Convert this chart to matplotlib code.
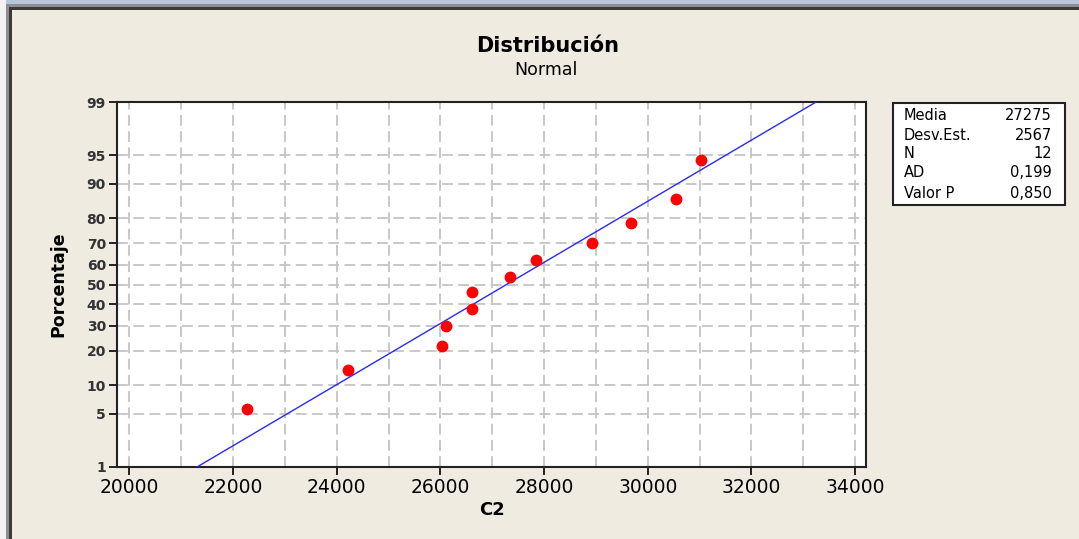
from statistics import NormalDist
import numpy as np
import matplotlib
matplotlib.use("Agg")
import matplotlib.pyplot as plt
from matplotlib.patches import Rectangle

# C2 sample values and their plotting positions (percent)
c2 = [22266, 24215, 26028, 26105, 26607, 26607, 27340, 27840, 28920, 29674, 30542, 31024]
pct = [5.6, 13.7, 21.8, 29.8, 37.9, 46.0, 54.0, 62.1, 70.2, 78.2, 86.3, 94.4]

# summary statistics shown in the box
media = 27275
desv = 2567
stat_names = ["Media", "Desv.Est.", "N", "AD", "Valor P"]
stat_values = ["27275", "2567", "12", "0,199", "0,850"]

xticks = [20000, 22000, 24000, 26000, 28000, 30000, 32000, 34000]
yticks = [1, 5, 10, 20, 30, 40, 50, 60, 70, 80, 90, 95, 99]

nd = NormalDist()
_inv = np.vectorize(lambda v: nd.inv_cdf(v / 100.0), otypes=[float])
_cdf = np.vectorize(lambda v: nd.cdf(v) * 100.0, otypes=[float])


def to_z(p):
    p = np.clip(np.asarray(p, dtype=float), 1e-6, 100 - 1e-6)
    return _inv(p)


def from_z(z):
    return _cdf(np.asarray(z, dtype=float))


bg = "#EFEBE1"
fig = plt.figure(figsize=(10.79, 5.39), dpi=100, facecolor=bg)

# window frame
W, H = 1079, 539
def frame(x0, y0, w, h, c):
    fig.patches.append(Rectangle((x0 / W, 1 - (y0 + h) / H), w / W, h / H,
                                 transform=fig.transFigure, color=c, lw=0, zorder=0))
frame(0, 0, W, 4, "#B7C6DA")
frame(0, 4, W, 3, "#8E8E8E")
frame(0, 7, W, 3, "#3A3A3A")
frame(0, 0, 6, H, "#F2F2F2")
frame(6, 7, 3, H, "#8E8E8E")
frame(9, 7, 3, H, "#3A3A3A")

ax = fig.add_axes([117 / W, 1 - 467 / H, 749 / W, 365 / H])
ax.set_facecolor("white")
ax.set_yscale("function", functions=(to_z, from_z))
ax.set_ylim(1, 99)
ax.set_xlim(19760, 34210)

ax.set_yticks(yticks)
ax.set_yticklabels([str(t) for t in yticks])
ax.set_xticks(xticks)
ax.set_xticks(np.arange(21000, 34000, 2000), minor=True)
ax.yaxis.set_minor_locator(matplotlib.ticker.NullLocator())

grid_kw = dict(color="#C4C4C4", lw=1.3, ls=(0, (6, 3)))
ax.grid(True, which="both", axis="x", **grid_kw)
ax.grid(True, which="major", axis="y", **grid_kw)
ax.set_axisbelow(True)

ax.tick_params(axis="x", which="major", direction="out", length=6, width=1.2,
               labelsize=13.5, pad=2, colors="black")
ax.tick_params(axis="x", which="minor", length=0)
ax.tick_params(axis="y", direction="out", length=6, width=1.2,
               labelsize=10, pad=2, colors="black")
for lab in ax.get_yticklabels():
    lab.set_fontweight("bold")
    lab.set_color("#333333")
for s in ax.spines.values():
    s.set_linewidth(1.5)
    s.set_color("#222222")

# fitted normal line from 1% to 99%
p_line = np.array([1.0, 99.0])
x_line = media + desv * to_z(p_line)
ax.plot(x_line, p_line, color="#2A2AF5", lw=1.0, zorder=3)

ax.plot(c2, pct, "o", color="#FF0000", ms=7.5, mec="#FF0000", zorder=4, clip_on=False)

ax.set_xlabel("C2", fontsize=13, fontweight="bold", labelpad=3)
ax.set_ylabel("Porcentaje", fontsize=12.5, fontweight="bold", labelpad=14)

fig.text(548 / W, 1 - 46 / H, "Distribución", ha="center", va="center",
         fontsize=15, fontweight="bold")
fig.text(546 / W, 1 - 70 / H, "Normal", ha="center", va="center", fontsize=12.5)

# statistics box
fig.patches.append(Rectangle((893 / W, 1 - 205 / H), 172 / W, 102 / H,
                             transform=fig.transFigure, facecolor="white",
                             edgecolor="#222222", lw=1.5, zorder=1))
rows_y = [116, 135, 154, 173, 193]
for name, val, yy in zip(stat_names, stat_values, rows_y):
    fig.text(904 / W, 1 - yy / H, name, ha="left", va="center", fontsize=10.5)
    fig.text(1052 / W, 1 - yy / H, val, ha="right", va="center", fontsize=10.5)

fig.savefig("out.png", dpi=100, facecolor=bg)
